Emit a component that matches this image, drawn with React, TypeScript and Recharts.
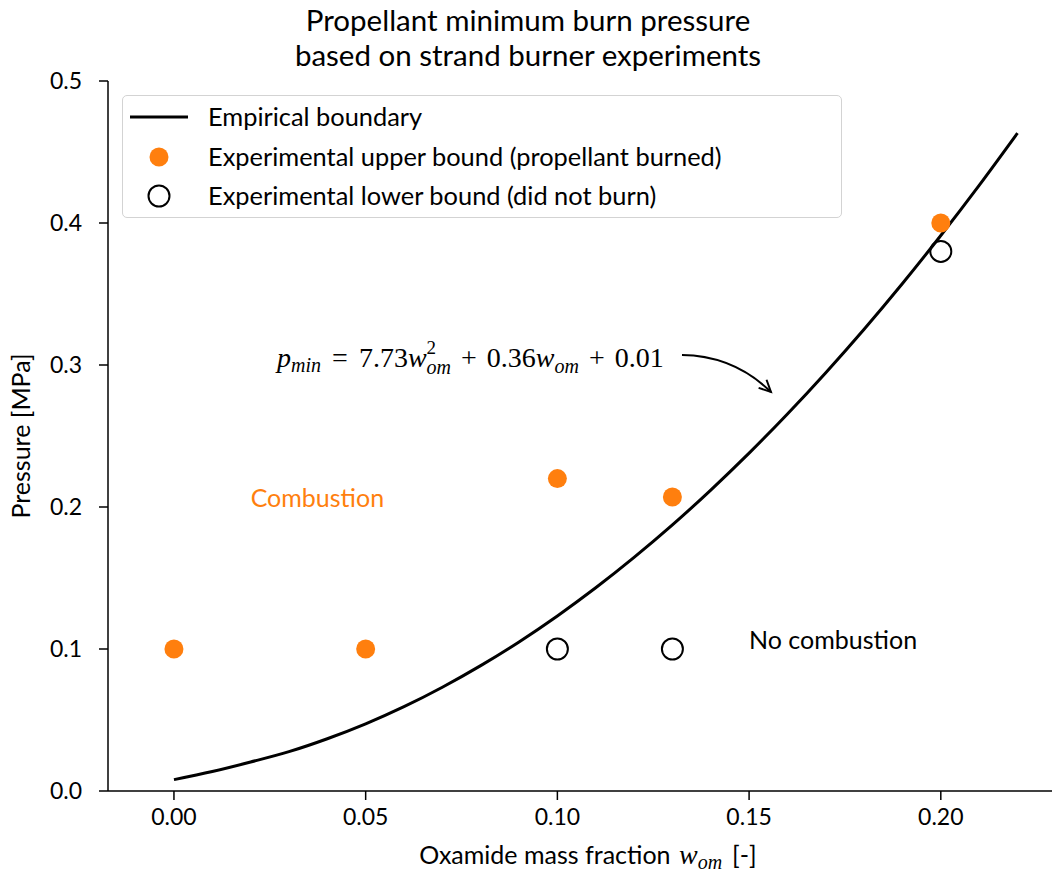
import React from 'react';
import {
  ComposedChart,
  Line,
  Scatter,
  XAxis,
  YAxis,
  ReferenceDot,
  ReferenceLine,
} from 'recharts';

// Empirical boundary curve
const boundaryW = [0, 0.01, 0.02, 0.03, 0.04, 0.05, 0.06, 0.07, 0.08, 0.09, 0.1, 0.11, 0.12, 0.13, 0.14, 0.15, 0.16, 0.17, 0.18, 0.19, 0.2, 0.21, 0.22];
const boundaryP = [0.008, 0.0137, 0.0204, 0.0277, 0.0368, 0.0473, 0.0594, 0.0731, 0.0883, 0.1050, 0.1233, 0.1431, 0.1645, 0.1874, 0.2119, 0.2379, 0.2655, 0.2946, 0.3252, 0.3574, 0.3912, 0.4265, 0.4633];

// Experimental upper bound (propellant burned)
const upperW = [0, 0.05, 0.1, 0.13, 0.2];
const upperP = [0.1, 0.1, 0.22, 0.207, 0.4];

// Experimental lower bound (did not burn)
const lowerW = [0.1, 0.13, 0.2];
const lowerP = [0.1, 0.1, 0.38];

const xTicks = [0, 0.05, 0.1, 0.15, 0.2];
const yTicks = [0, 0.1, 0.2, 0.3, 0.4, 0.5];

const titleLines = ['Propellant minimum burn pressure', 'based on strand burner experiments'];
const legendLabels = [
  'Empirical boundary',
  'Experimental upper bound (propellant burned)',
  'Experimental lower bound (did not burn)',
];

const boundary = boundaryW.map((w, i) => ({ w, p: boundaryP[i] }));
const upper = upperW.map((w, i) => ({ w, p: upperP[i] }));
const lower = lowerW.map((w, i) => ({ w, p: lowerP[i] }));

const ORANGE = '#ff7f0e';
const SANS = 'Lato, "DejaVu Sans", sans-serif';
const SERIF = '"Liberation Serif", "DejaVu Serif", serif';
const FS = 23;
const TFS = 25;

const OrangeDot = (props: any) => (
  <circle cx={props.cx} cy={props.cy} r={9.5} fill={ORANGE} />
);
const OpenDot = (props: any) => (
  <circle cx={props.cx} cy={props.cy} r={10.5} fill="none" stroke="#000" strokeWidth={2} />
);

const TextAt = (text: string, color: string) => (props: any) => (
  <text x={props.cx} y={props.cy} fill={color} fontFamily={SANS} fontSize={TFS} textAnchor="start">
    {text}
  </text>
);

const Formula = (props: any) => (
  <text x={props.cx} y={props.cy} fill="#000" fontFamily={SERIF} fontSize={28} textAnchor="start">
    <tspan fontStyle="italic">p</tspan>
    <tspan fontStyle="italic" fontSize={20} dy={5}>min</tspan>
    <tspan dy={-5} dx={11}>=</tspan>
    <tspan dx={11}>7.73</tspan>
    <tspan fontStyle="italic">w</tspan>
    <tspan fontSize={19} dy={-13}>2</tspan>
    <tspan fontStyle="italic" fontSize={20} dy={20} dx={-9.5}>om</tspan>
    <tspan dy={-7} dx={10}>+</tspan>
    <tspan dx={10}>0.36</tspan>
    <tspan fontStyle="italic">w</tspan>
    <tspan fontStyle="italic" fontSize={20} dy={6}>om</tspan>
    <tspan dy={-6} dx={10}>+</tspan>
    <tspan dx={10}>0.01</tspan>
  </text>
);

const CurvedArrow = (props: any) => {
  const { x1, y1, x2, y2 } = props;
  const dx = x2 - x1;
  const dy = y2 - y1;
  const rad = 0.2;
  const cx = (x1 + x2) / 2 + rad * dy;
  const cy = (y1 + y2) / 2 - rad * dx;
  const ang = Math.atan2(y2 - cy, x2 - cx);
  const L = 13;
  const a = 0.45;
  const hx1 = x2 - L * Math.cos(ang - a);
  const hy1 = y2 - L * Math.sin(ang - a);
  const hx2 = x2 - L * Math.cos(ang + a);
  const hy2 = y2 - L * Math.sin(ang + a);
  return (
    <g fill="none" stroke="#000" strokeWidth={2}>
      <path d={`M${x1},${y1} Q${cx},${cy} ${x2},${y2}`} />
      <path d={`M${hx1},${hy1} L${x2},${y2} L${hx2},${hy2}`} />
    </g>
  );
};

const XLabel = (props: any) => {
  const vb = props.viewBox || {};
  const cx = vb.x + vb.width / 2 + 8;
  const y = vb.y + 73;
  return (
    <text x={cx} y={y} textAnchor="middle" fontFamily={SANS} fontSize={TFS} fill="#000">
      <tspan>Oxamide mass fraction </tspan>
      <tspan fontFamily={SERIF} fontStyle="italic" fontSize={28} dx={2}>w</tspan>
      <tspan fontFamily={SERIF} fontStyle="italic" fontSize={20} dy={5}>om</tspan>
      <tspan dy={-5} dx={10}>[-]</tspan>
    </text>
  );
};

const YLabel = (props: any) => {
  const vb = props.viewBox || {};
  const cy = vb.y + vb.height / 2;
  const x = 30;
  return (
    <text x={x} y={cy} textAnchor="middle" fontFamily={SANS} fontSize={TFS} fill="#000" transform={`rotate(-90 ${x} ${cy})`}>
      Pressure [MPa]
    </text>
  );
};

const Legend = () => (
  <div
    style={{
      position: 'absolute',
      left: 122,
      top: 95,
      width: 720,
      height: 123,
      boxSizing: 'border-box',
      border: '1.5px solid #d3d3d3',
      borderRadius: 5,
      background: 'rgba(255,255,255,0.8)',
    }}
  >
    <svg width={718} height={121} style={{ position: 'absolute', left: 0, top: 0 }}>
      <line x1={7} y1={21} x2={65} y2={21} stroke="#000" strokeWidth={3} />
      <circle cx={36} cy={61} r={9.5} fill={ORANGE} />
      <circle cx={36} cy={100} r={10.5} fill="none" stroke="#000" strokeWidth={2} />
      {legendLabels.map((t, i) => (
        <text key={t} x={85} y={[21, 61, 100][i] + 9} fontFamily={SANS} fontSize={25.4} fill="#000">
          {t}
        </text>
      ))}
    </svg>
  </div>
);

export default function App() {
  return (
    <div style={{ position: 'absolute', left: 0, top: 0, width: 1052, height: 875, background: '#fff', overflow: 'hidden' }}>
      <ComposedChart width={1052} height={875} margin={{ top: 81, right: 0, bottom: 0, left: 0 }}>
        <XAxis
          type="number"
          dataKey="w"
          domain={[-0.0172, 0.229]}
          ticks={xTicks}
          allowDataOverflow
          height={84}
          tickSize={9}
          tickMargin={9}
          stroke="#000"
          strokeWidth={1.5}
          tick={{ fill: '#000', fontSize: FS, fontFamily: SANS }}
          tickFormatter={(v: number) => v.toFixed(2)}
          label={<XLabel />}
        />
        <YAxis
          type="number"
          dataKey="p"
          domain={[0, 0.5]}
          ticks={yTicks}
          allowDataOverflow
          width={108}
          tickSize={9}
          tickMargin={17}
          stroke="#000"
          strokeWidth={1.5}
          tick={{ fill: '#000', fontSize: FS, fontFamily: SANS }}
          tickFormatter={(v: number) => v.toFixed(1)}
          label={<YLabel />}
        />
        <Line
          data={boundary}
          dataKey="p"
          type="monotone"
          stroke="#000"
          strokeWidth={3}
          dot={false}
          activeDot={false}
          isAnimationActive={false}
        />
        <Scatter data={upper} dataKey="p" shape={<OrangeDot />} isAnimationActive={false} />
        <Scatter data={lower} dataKey="p" shape={<OpenDot />} isAnimationActive={false} />
        <ReferenceDot x={0.02} y={0.2} r={0} shape={TextAt('Combustion', ORANGE)} />
        <ReferenceDot x={0.15} y={0.1} r={0} shape={TextAt('No combustion', '#000')} />
        <ReferenceDot x={0.0269} y={0.2987} r={0} shape={Formula} />
        <ReferenceLine
          segment={[{ x: 0.1325, y: 0.307 }, { x: 0.1557, y: 0.281 }]}
          shape={CurvedArrow}
        />
      </ComposedChart>
      {titleLines.map((t, i) => (
        <div
          key={t}
          style={{
            position: 'absolute',
            left: 0,
            width: 1052,
            top: 3 + i * 35,
            textAlign: 'center',
            fontFamily: SANS,
            fontSize: 29.5,
            lineHeight: '34px',
            color: '#000',
            paddingLeft: 2,
          }}
        >
          {t}
        </div>
      ))}
      <Legend />
    </div>
  );
}
